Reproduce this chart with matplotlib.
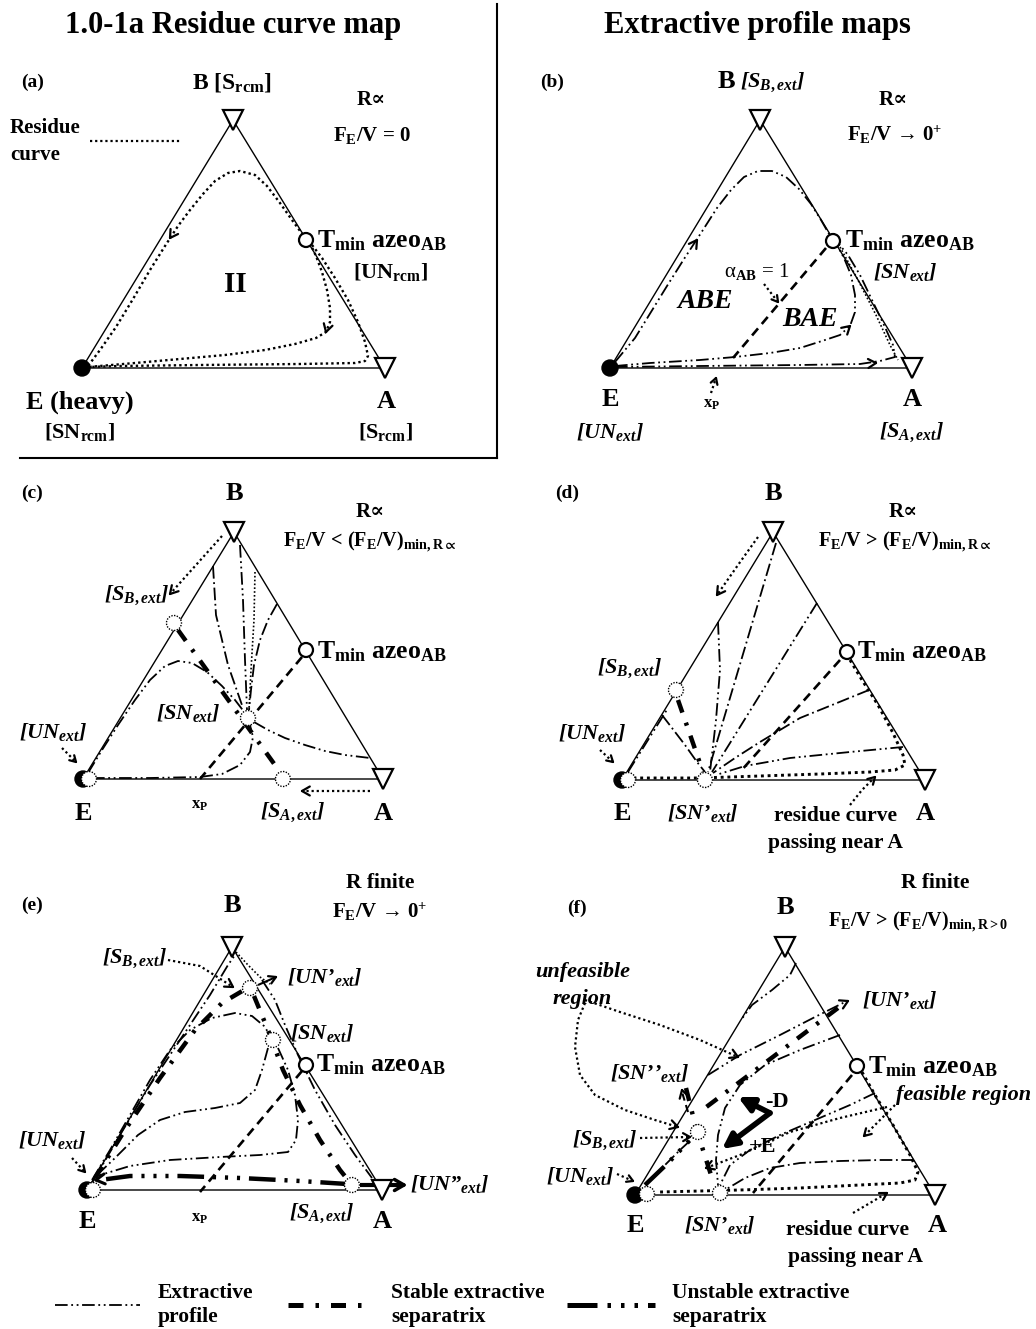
import numpy as np
import matplotlib.pyplot as plt
from matplotlib.patches import Circle

plt.rcParams['font.family'] = ['Liberation Serif', 'DejaVu Serif']
plt.rcParams['font.weight'] = 'bold'
plt.rcParams['mathtext.fontset'] = 'custom'
plt.rcParams['mathtext.rm'] = 'Liberation Serif:bold'
plt.rcParams['mathtext.bf'] = 'Liberation Serif:bold'
plt.rcParams['mathtext.it'] = 'Liberation Serif:bold:italic'
plt.rcParams['mathtext.fallback'] = 'stix'

# --- line styles ---
LS_EXT = (0, (7, 2, 1, 2, 1, 2))      # extractive profile
LS_EXT2 = (0, (7, 2, 1, 2))           # thin dash-dot profile
LS_STAB = (0, (3, 2.4, 0.7, 2.4))     # stable separatrix
LS_UNST = (0, (6, 2, 0.7, 2, 0.7, 2, 0.7, 2))  # unstable separatrix
LS_DOT = (0, (1, 1.3))
LS_DASH = (0, (3.5, 2.2))
LW_THIN = 1.3

# --- triangle corners E, A, B (pixel space) ---
tri_a = [(82, 368), (385, 368), (233, 120)]
tri_b = [(610, 368), (912, 368), (760, 120)]
tri_c = [(83, 779), (383, 779), (234, 532)]
tri_d = [(622, 780), (925, 780), (773, 532)]
tri_e = [(87, 1190), (382, 1190), (232, 947)]
tri_f = [(635, 1195), (935, 1195), (785, 947)]

azeo = {'a': (306, 240), 'b': (833, 241), 'c': (306, 650),
        'd': (847, 652), 'e': (306, 1065), 'f': (857, 1066)}

# --- panel (a): residue curves ---
rc_a_top = [(303, 235), (292, 220), (280, 203), (267, 186), (255, 175), (240, 171),
            (228, 173), (215, 181), (203, 194), (190, 210), (178, 226), (165, 246),
            (150, 270), (133, 299), (116, 327), (100, 350), (88, 366)]
rc_a_inner = [(310, 243), (316, 256), (322, 272), (327, 290), (330, 308), (330, 322),
              (326, 332), (316, 338), (295, 344), (265, 350), (225, 355), (180, 359),
              (135, 363), (88, 367)]
rc_a_outer = [(312, 245), (322, 258), (335, 278), (348, 300), (358, 322), (365, 342),
              (368, 356), (365, 361), (355, 363), (300, 364), (200, 365), (120, 366),
              (88, 367)]

# --- panel (b) ---
ep_b_top = [(615, 362), (635, 338), (651, 312), (667, 286), (684, 259), (701, 233),
            (717, 208), (731, 190), (744, 177), (758, 171), (772, 171), (786, 177),
            (799, 189), (811, 204), (821, 220), (829, 234)]
ep_b_bae = [(615, 366), (650, 363), (700, 360), (735, 357), (770, 353), (800, 348),
            (822, 341), (840, 335), (850, 326), (855, 312), (855, 295), (851, 275),
            (844, 258), (837, 245)]
ep_b_low = [(615, 367), (700, 366), (800, 365), (860, 364), (880, 361), (895, 357),
            (893, 345), (884, 325), (872, 300), (860, 275), (848, 255), (838, 243)]
rc_b_right = [(840, 247), (858, 280), (876, 315), (890, 345), (898, 360)]
alpha_b = [(826, 248), (733, 358)]

# --- panel (c) ---
sep_c = [(178, 630), (280, 772)]
alpha_c = [(302, 657), (200, 779)]
ep_c = [
    [(88, 773), (102, 750), (118, 725), (135, 700), (150, 680), (165, 666), (178, 661),
     (192, 663), (207, 672), (222, 686), (235, 700), (245, 713)],
    [(254, 722), (268, 730), (285, 738), (305, 745), (325, 751), (345, 755), (370, 758)],
    [(92, 778), (150, 778), (200, 777), (222, 774), (240, 765), (250, 752), (253, 737),
     (250, 725)],
    [(240, 545), (243, 600), (245, 660), (247, 710)],
]
ep_c_dash = [[(213, 566), (216, 615), (228, 665), (243, 708)],
             [(277, 604), (268, 620), (260, 640), (254, 665), (251, 690), (249, 710)]]
ep_c_dot = [(255, 572), (254, 620), (251, 670), (249, 710)]

# --- panel (d) ---
sep_d = [(678, 700), (703, 772)]
alpha_d = [(840, 660), (740, 772)]
rc_d = [(850, 660), (862, 680), (878, 705), (893, 733), (903, 755), (905, 765),
        (895, 770), (870, 772), (820, 774), (760, 776), (700, 778), (632, 778)]
ep_d = [
    [(628, 772), (648, 740), (668, 708)],
    [(718, 622), (720, 670), (716, 720), (710, 772)],
    [(817, 603), (712, 772)],
    [(903, 747), (850, 752), (790, 758), (745, 766), (716, 775)],
]
ep_d_dash = [[(662, 715), (672, 728), (685, 745), (697, 762), (705, 772)],
             [(776, 543), (708, 772)],
             [(869, 690), (800, 718), (760, 742), (735, 758), (713, 773)]]

# --- panel (e) ---
unst_e = [(347, 1184), (300, 1181), (240, 1178), (180, 1176), (130, 1176), (100, 1180)]
stab_e_left = [(95, 1178), (125, 1130), (160, 1078), (195, 1030), (222, 1003), (244, 990)]
stab_e_right = [(254, 996), (268, 1030), (283, 1070), (300, 1105), (320, 1140),
                (340, 1170), (348, 1180)]
alpha_e = [(302, 1071), (200, 1192)]
ep_e = [
    [(92, 1183), (120, 1135), (150, 1085), (180, 1040), (210, 995), (228, 965), (235, 955)],
    [(92, 1180), (110, 1150), (130, 1115), (150, 1080), (170, 1050), (190, 1030),
     (212, 1018), (235, 1013), (252, 1016), (264, 1026), (272, 1038)],
    [(278, 1048), (288, 1070), (295, 1095), (298, 1120), (296, 1140), (288, 1152),
     (260, 1155), (220, 1157), (170, 1160), (130, 1166), (97, 1176)],
    [(268, 1048), (262, 1070), (255, 1090), (240, 1103), (215, 1108), (185, 1112),
     (160, 1120), (138, 1135), (115, 1158), (95, 1177)],
    [(262, 980), (275, 1000), (285, 1025), (298, 1055), (315, 1090), (335, 1125),
     (355, 1155), (372, 1178)],
]
ep_e_dot = [(236, 952), (248, 965), (260, 977), (270, 984)]

# --- panel (f) ---
rc_f = [(862, 1072), (875, 1095), (893, 1125), (910, 1155), (918, 1172), (915, 1180),
        (900, 1183), (860, 1185), (800, 1188), (740, 1190), (660, 1192)]
alpha_f = [(852, 1075), (753, 1193)]
stab_f = [[(838, 1008), (705, 1108)],
          [(686, 1088), (694, 1120), (703, 1150), (712, 1178)]]
unst_f = [(645, 1185), (668, 1163), (690, 1140)]
ep_f = [
    [(796, 963), (790, 975), (772, 990), (752, 1005), (741, 1020)],
    [(708, 1075), (740, 1055), (780, 1035), (815, 1017), (845, 1002)],
    [(840, 1035), (800, 1050), (765, 1065), (740, 1085), (725, 1108), (718, 1135),
     (716, 1160), (718, 1185)],
    [(875, 1093), (850, 1105), (815, 1120), (780, 1135), (750, 1150), (730, 1165),
     (720, 1185)],
]
ep_f_dash = [[(914, 1160), (880, 1160), (840, 1161), (800, 1163), (770, 1168),
              (745, 1178), (725, 1190)],
             [(650, 1180), (665, 1165), (680, 1150), (693, 1138)]]
feas_f = [(887, 1107), (840, 1118), (790, 1132), (740, 1155), (706, 1168)]
unfeas_arrow1 = [(585, 1000), (620, 1012), (660, 1025), (700, 1040), (738, 1057)]
unfeas_arrow2 = [(585, 1003), (578, 1020), (575, 1047), (580, 1075), (595, 1095),
                 (625, 1110), (655, 1120), (678, 1127)]

fig = plt.figure(figsize=(10.36, 13.29), dpi=100)
ax = fig.add_axes([0, 0, 1, 1])
ax.set_xlim(0, 1036)
ax.set_ylim(1329, 0)
ax.axis('off')


def line(pts, ls, lw, z=3):
    p = np.array(pts, float)
    ax.plot(p[:, 0], p[:, 1], color='k', lw=lw, ls=ls, zorder=z,
            dash_capstyle='butt', solid_capstyle='butt')


def head(tip, frm, size=8, lw=1.6, ang=30):
    t = np.array(tip, float)
    d = t - np.array(frm, float)
    d = -d / np.hypot(*d)
    for s in (1, -1):
        a = np.radians(ang * s)
        r = np.array([np.cos(a) * d[0] - np.sin(a) * d[1],
                      np.sin(a) * d[0] + np.cos(a) * d[1]])
        ax.plot([t[0], t[0] + size * r[0]], [t[1], t[1] + size * r[1]],
                color='k', lw=lw, solid_capstyle='round', zorder=7)


def arrow(pts, ls=LS_DOT, lw=1.6, size=8):
    line(pts, ls, lw, z=6)
    head(pts[-1], pts[-2], size)


def txt(x, y, s, size=16, ha='center', it=False, **kw):
    ax.text(x, y, s, fontsize=size, ha=ha, va='center', fontweight='bold',
            style='italic' if it else 'normal', zorder=9, **kw)


def frame(tri, e_mark):
    (ex, ey), (axx, ay), (bx, by) = tri
    ax.plot([ex, axx, bx, ex], [ey, ay, by, ey], color='k', lw=1.0, zorder=2)
    for x, y in [(axx, ay), (bx, by)]:
        ax.plot(x, y, marker='v', ms=14, mfc='white', mec='k', mew=1.6, zorder=8)
    ax.add_patch(Circle((ex, ey), 8, fc='k', ec='k', zorder=8))
    if e_mark == 'half':
        ax.add_patch(Circle((ex + 6, ey), 7.5, fc='white', ec='k', lw=1.0,
                            ls=(0, (1, 1)), zorder=9))
    elif e_mark == 'ring':
        ax.add_patch(Circle((ex + 12, ey - 1), 7.5, fc='white', ec='k', lw=1.0,
                            ls=(0, (1, 1)), zorder=9))


def dcirc(x, y):
    ax.add_patch(Circle((x, y), 7.5, fc='white', ec='k', lw=1.0,
                        ls=(0, (1, 1)), zorder=8))


def ocirc(x, y):
    ax.add_patch(Circle((x, y), 7, fc='white', ec='k', lw=1.6, zorder=8))


AZ = r'T$_{\mathrm{min}}$ azeo$_{\mathrm{AB}}$'

# ================= titles and frame of (a) =================
txt(233, 25, '1.0-1a Residue curve map', size=22)
txt(757, 25, 'Extractive profile maps', size=22)
ax.plot([497, 497], [4, 458], color='k', lw=1.5)
ax.plot([20, 497], [458, 458], color='k', lw=1.5)

# ================= (a) =================
frame(tri_a, 'full')
for c in (rc_a_top, rc_a_inner, rc_a_outer):
    line(c, LS_DOT, 1.7)
head((170, 238), (178, 226), 9)
head((326, 332), (330, 318), 9)
ocirc(*azeo['a'])
line([(90, 141), (180, 141)], LS_DOT, 1.6)
txt(33, 82, '(a)', 14)
txt(232, 82, r'B [S$_{\mathrm{rcm}}$]', 17)
txt(371, 100, 'R∝', 15)
txt(372, 135, r'F$_{\mathrm{E}}$/V = 0', 15)
txt(10, 128, 'Residue', 15, ha='left')
txt(10, 155, 'curve', 15, ha='left')
txt(235, 284, 'II', 21)
txt(317, 241, AZ, 18.5, ha='left')
txt(390, 272, r'[UN$_{\mathrm{rcm}}$]', 16)
txt(80, 402, 'E (heavy)', 19)
txt(80, 432, r'[SN$_{\mathrm{rcm}}$]', 16)
txt(386, 402, 'A', 19)
txt(386, 432, r'[S$_{\mathrm{rcm}}$]', 16)

# ================= (b) =================
frame(tri_b, 'full')
for c in (ep_b_top, ep_b_bae, ep_b_low):
    line(c, LS_EXT, LW_THIN)
line(rc_b_right, LS_DOT, 1.2)
line(alpha_b, LS_DASH, 1.9)
head((697, 240), (684, 259), 9)
head((850, 326), (840, 335), 9)
head((876, 363), (860, 364), 9)
arrow([(764, 284), (778, 302)], size=7)
arrow([(711, 393), (716, 378)], size=7)
ocirc(*azeo['b'])
txt(552, 82, '(b)', 14)
txt(726, 82, 'B', 19)
txt(740, 82, r'[S$_{B,ext}$]', 16, ha='left', it=True)
txt(893, 100, 'R∝', 15)
txt(895, 135, r'F$_{\mathrm{E}}$/V → 0$^{+}$', 15)
txt(845, 241, AZ, 18.5, ha='left')
txt(905, 272, r'[SN$_{ext}$]', 16, it=True)
ax.text(757, 272, r'α$_{\mathrm{AB}}$ = 1', fontsize=15, ha='center', va='center',
        fontweight='normal', zorder=9)
txt(705, 302, 'ABE', 20, it=True)
txt(810, 320, 'BAE', 20, it=True)
txt(610, 400, 'E', 19)
txt(610, 432, r'[UN$_{ext}$]', 16, it=True)
txt(712, 404, r'x$_{\mathrm{P}}$', 12)
txt(912, 400, 'A', 19)
txt(912, 432, r'[S$_{A,ext}$]', 16, it=True)

# ================= (c) =================
frame(tri_c, 'half')
for c in ep_c:
    line(c, LS_EXT, LW_THIN)
for c in ep_c_dash:
    line(c, LS_EXT2, LW_THIN)
line(ep_c_dot, LS_DOT, 1.2)
line(alpha_c, LS_DASH, 1.9)
line(sep_c, LS_STAB, 3.2, z=4)
ocirc(*azeo['c'])
dcirc(174, 623)
dcirc(248, 718)
dcirc(283, 779)
arrow([(222, 536), (196, 565), (170, 594)], size=9)
arrow([(370, 791), (302, 791)], size=9)
arrow([(62, 748), (76, 762)], size=7)
txt(32, 493, '(c)', 14)
txt(234, 493, 'B', 19)
txt(370, 512, 'R∝', 15)
txt(370, 542, r'F$_{\mathrm{E}}$/V < (F$_{\mathrm{E}}$/V)$_{\mathrm{min,R}\propto}$', 14.5)
txt(137, 595, r'[S$_{B,ext}$]', 16, it=True)
txt(188, 713, r'[SN$_{ext}$]', 16, it=True)
txt(53, 732, r'[UN$_{ext}$]', 16, it=True)
txt(293, 812, r'[S$_{A,ext}$]', 16, it=True)
txt(317, 652, AZ, 18.5, ha='left')
txt(83, 813, 'E', 19)
txt(383, 813, 'A', 19)
txt(200, 805, r'x$_{\mathrm{P}}$', 12)

# ================= (d) =================
frame(tri_d, 'half')
for c in ep_d:
    line(c, LS_EXT, LW_THIN)
for c in ep_d_dash:
    line(c, LS_EXT2, LW_THIN)
line(rc_d, LS_DOT, 2.1)
line(alpha_d, LS_DASH, 1.9)
line(sep_d, LS_STAB, 3.2, z=4)
ocirc(*azeo['d'])
dcirc(676, 690)
dcirc(705, 780)
arrow([(758, 537), (738, 565), (717, 595)], size=9)
arrow([(600, 750), (613, 762)], size=7)
arrow([(850, 805), (862, 790), (875, 777)], size=8)
txt(567, 493, '(d)', 14)
txt(773, 493, 'B', 19)
txt(903, 512, 'R∝', 15)
txt(905, 542, r'F$_{\mathrm{E}}$/V > (F$_{\mathrm{E}}$/V)$_{\mathrm{min,R}\propto}$', 14.5)
txt(630, 668, r'[S$_{B,ext}$]', 16, it=True)
txt(592, 733, r'[UN$_{ext}$]', 16, it=True)
txt(703, 813, r'[SN’$_{ext}$]', 16, it=True)
txt(857, 652, AZ, 18.5, ha='left')
txt(622, 813, 'E', 19)
txt(925, 813, 'A', 19)
txt(835, 816, 'residue curve', 15.5)
txt(835, 843, 'passing near A', 15.5)

# ================= (e) =================
frame(tri_e, 'half')
for c in ep_e:
    line(c, LS_EXT, LW_THIN)
line(ep_e_dot, LS_DOT, 1.2)
line(alpha_e, LS_DASH, 1.9)
line(stab_e_left, LS_STAB, 3.2, z=4)
line(stab_e_right, LS_STAB, 3.2, z=4)
line(unst_e, LS_UNST, 3.2, z=4)
head((96, 1180), (120, 1177), 10, lw=2.2)
line([(258, 985), (276, 977)], '-', 1.5)
head((276, 977), (258, 985), 8)
line([(360, 1185), (402, 1185)], '-', 3.0)
head((404, 1185), (380, 1185), 11, lw=2.5)
ocirc(*azeo['e'])
dcirc(250, 988)
dcirc(273, 1040)
dcirc(352, 1185)
arrow([(168, 960), (200, 966), (233, 987)], size=9)
arrow([(72, 1158), (85, 1172)], size=7)
txt(32, 905, '(e)', 14)
txt(232, 905, 'B', 19)
txt(380, 883, 'R finite', 15.5)
txt(380, 912, r'F$_{\mathrm{E}}$/V → 0$^{+}$', 15)
txt(135, 958, r'[S$_{B,ext}$]', 16, it=True)
txt(325, 977, r'[UN’$_{ext}$]', 16, it=True)
txt(322, 1033, r'[SN$_{ext}$]', 16, it=True)
txt(316, 1065, AZ, 18.5, ha='left')
txt(52, 1140, r'[UN$_{ext}$]', 16, it=True)
txt(410, 1184, r'[UN”$_{ext}$]', 16, ha='left', it=True)
txt(322, 1213, r'[S$_{A,ext}$]', 16, it=True)
txt(87, 1222, 'E', 19)
txt(382, 1222, 'A', 19)
txt(200, 1218, r'x$_{\mathrm{P}}$', 12)

# ================= (f) =================
frame(tri_f, 'ring')
for c in ep_f:
    line(c, LS_EXT, LW_THIN)
for c in ep_f_dash:
    line(c, LS_EXT2, LW_THIN)
line(rc_f, LS_DOT, 2.1)
line(alpha_f, LS_DASH, 1.9)
for c in stab_f:
    line(c, LS_STAB, 3.2, z=4)
line(unst_f, LS_UNST, 3.2, z=4)
head((848, 1001), (815, 1017), 9)
arrow(feas_f, size=9)
arrow(unfeas_arrow1, size=9)
arrow(unfeas_arrow2, size=9)
arrow([(895, 1105), (880, 1120), (864, 1136)], size=8)
arrow([(853, 1213), (870, 1203), (887, 1193)], size=8)
arrow([(640, 1138), (690, 1137)], size=8)
arrow([(617, 1174), (633, 1181)], size=7)
line([(688, 1112), (682, 1092)], LS_DASH, 1.5)
head((682, 1090), (688, 1112), 9)
for tip in [(738, 1097), (722, 1149)]:
    ax.annotate('', xy=tip, xytext=(770, 1113),
                arrowprops=dict(arrowstyle='-|>', lw=4, color='k',
                                mutation_scale=22, shrinkA=0, shrinkB=0),
                zorder=7)
ocirc(*azeo['f'])
dcirc(698, 1132)
dcirc(720, 1193)
txt(577, 908, '(f)', 14)
txt(785, 907, 'B', 19)
txt(935, 883, 'R finite', 15.5)
txt(918, 922, r'F$_{\mathrm{E}}$/V > (F$_{\mathrm{E}}$/V)$_{\mathrm{min,R>0}}$', 14.5)
txt(583, 972, 'unfeasible', 16, it=True)
txt(582, 999, 'region', 16, it=True)
txt(900, 1000, r'[UN’$_{ext}$]', 16, it=True)
txt(650, 1073, r'[SN’’$_{ext}$]', 16, it=True)
txt(868, 1067, AZ, 18.5, ha='left')
txt(964, 1095, 'feasible region', 16, it=True)
txt(777, 1102, '-D', 16)
txt(763, 1147, '+E', 16)
txt(605, 1140, r'[S$_{B,ext}$]', 16, it=True)
txt(580, 1176, r'[UN$_{ext}$]', 16, it=True)
txt(635, 1225, 'E', 19)
txt(720, 1225, r'[SN’$_{ext}$]', 16, it=True)
txt(937, 1225, 'A', 19)
txt(848, 1230, 'residue curve', 15.5)
txt(855, 1257, 'passing near A', 15.5)

# ================= legend =================
line([(55, 1305), (140, 1305)], LS_EXT, LW_THIN)
line([(288, 1305), (365, 1305)], LS_STAB, 3.6)
line([(567, 1305), (655, 1305)], LS_UNST, 3.6)
for x, a, b in [(158, 'Extractive', 'profile'),
                (391, 'Stable extractive', 'separatrix'),
                (672, 'Unstable extractive', 'separatrix')]:
    txt(x, 1293, a, 15.5, ha='left')
    txt(x, 1317, b, 15.5, ha='left')

fig.savefig('out.png', dpi=100)
